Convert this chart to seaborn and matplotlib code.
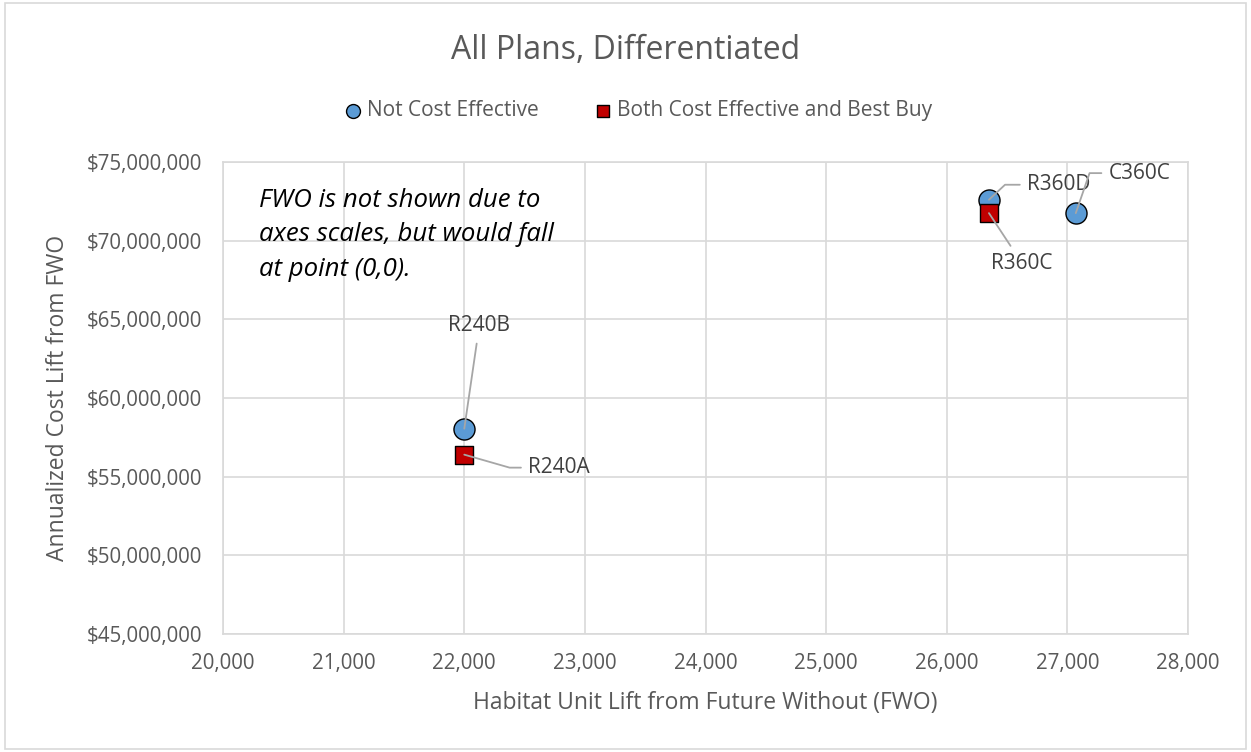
import matplotlib
matplotlib.use("Agg")
import matplotlib.pyplot as plt
import matplotlib.ticker as mticker
from matplotlib.patches import Rectangle
import pandas as pd
import seaborn as sns

# Plan results relative to the Future Without (FWO) condition
plans = ["R240B", "R240A", "R360D", "R360C", "C360C"]
habitat_lift = [22000, 22000, 26350, 26350, 27070]
cost_lift = [58_050_000, 56_400_000, 72_600_000, 71_750_000, 71_750_000]
status = ["Not Cost Effective", "Both Cost Effective and Best Buy",
          "Not Cost Effective", "Both Cost Effective and Best Buy",
          "Not Cost Effective"]

status_order = ["Not Cost Effective", "Both Cost Effective and Best Buy"]
x_ticks = [20000, 21000, 22000, 23000, 24000, 25000, 26000, 27000, 28000]
y_ticks = [45_000_000, 50_000_000, 55_000_000, 60_000_000,
           65_000_000, 70_000_000, 75_000_000]

df = pd.DataFrame({"plan": plans, "habitat": habitat_lift,
                   "cost": cost_lift, "status": status})

sns.set_theme(style="white")
plt.rcParams["font.family"] = ["Open Sans", "DejaVu Sans"]

GREY_TXT = "#595959"
GRID = "#d9d9d9"

fig = plt.figure(figsize=(12.51, 7.52), dpi=100)
ax = fig.add_axes([0.1783, 0.1569, 0.7713, 0.6277])

palette = {"Not Cost Effective": "#5b9bd5",
           "Both Cost Effective and Best Buy": "#c00000"}
markers = {"Not Cost Effective": "o",
           "Both Cost Effective and Best Buy": "s"}
sizes = {"Not Cost Effective": 230, "Both Cost Effective and Best Buy": 185}

for st in status_order:
    sub = df[df["status"] == st]
    sns.scatterplot(data=sub, x="habitat", y="cost", ax=ax, color=palette[st],
                    marker=markers[st], s=sizes[st], edgecolor="black",
                    linewidth=1.0, label=st, zorder=3)

ax.set_xlim(x_ticks[0], x_ticks[-1])
ax.set_ylim(y_ticks[0], y_ticks[-1])
ax.set_xticks(x_ticks)
ax.set_yticks(y_ticks)
ax.xaxis.set_major_formatter(mticker.FuncFormatter(lambda v, p: f"{v:,.0f}"))
ax.yaxis.set_major_formatter(mticker.FuncFormatter(lambda v, p: f"${v:,.0f}"))
ax.tick_params(axis="both", labelsize=14.8, colors=GREY_TXT, length=0)
ax.tick_params(axis="y", pad=15)
ax.tick_params(axis="x", pad=14)
ax.grid(True, color=GRID, linewidth=1.2)
ax.set_axisbelow(True)
for sp in ax.spines.values():
    sp.set_color(GRID)
    sp.set_linewidth(1.2)

ax.set_xlabel("Habitat Unit Lift from Future Without (FWO)", fontsize=16.5,
              color=GREY_TXT, labelpad=12)
ax.set_ylabel("Annualized Cost Lift from FWO", fontsize=16.5,
              color=GREY_TXT, labelpad=12)

# Point labels with leader lines: (dx, dy) in pixels from the point, and the
# leader style (elbow angles, or None for a straight line)
label_layout = {
    "R240B": (15, 103, None),
    "R240A": (95, -13, (180, -16)),
    "R360D": (70, 15, (180, 43)),
    "R360C": (33, -50, None),
    "C360C": (64, 40, (180, 71)),
}
for plan, hx, cy in zip(plans, habitat_lift, cost_lift):
    dx, dy, elbow = label_layout[plan]
    if elbow is None:
        conn = "arc3,rad=0"
    else:
        conn = f"angle,angleA={elbow[0]},angleB={elbow[1]},rad=0"
    ax.annotate(plan, xy=(hx, cy), xytext=(dx, dy), textcoords="offset pixels",
                ha="center", va="center", fontsize=15, color="#404040",
                arrowprops=dict(arrowstyle="-", color="#a6a6a6", lw=1.3,
                                shrinkA=3, shrinkB=0, connectionstyle=conn),
                zorder=4)

ax.text(0.037, 0.945,
        "FWO is not shown due to\naxes scales, but would fall\nat point (0,0).",
        transform=ax.transAxes, ha="left", va="top", fontsize=18.5,
        style="italic", color="black", linespacing=1.5)

handles, labels = ax.get_legend_handles_labels()
ax.legend(handles, labels, loc="center", bbox_to_anchor=(0.51, 0.853),
          bbox_transform=fig.transFigure, ncol=2, frameon=False,
          fontsize=15, labelcolor=GREY_TXT, handlelength=0.9,
          handletextpad=0.25, columnspacing=2.6, markerscale=0.66)

fig.text(0.5, 0.933, "All Plans, Differentiated", ha="center", va="center",
         fontsize=23, color=GREY_TXT)

fig.patches.append(Rectangle((0.004, 0.004), 0.992, 0.992,
                             transform=fig.transFigure, fill=False,
                             edgecolor=GRID, linewidth=1.2))

fig.savefig("out.png", dpi=100)
